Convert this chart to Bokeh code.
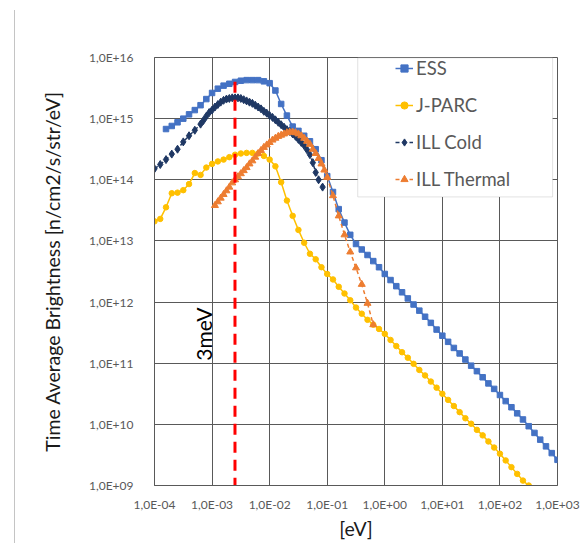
import math
from bokeh.plotting import figure
from bokeh.layouts import row
from bokeh.models import (Range1d, FixedTicker, CustomJSTickFormatter, Legend,
                          LegendItem, Label, BoxAnnotation, Div)
from bokeh.embed import file_html
from bokeh.resources import INLINE

# ---------------- data (log10 of energy [eV] and of brightness) ----------------
x_tick_exps = [-4, -3, -2, -1, 0, 1, 2, 3]
x_tick_labels = ["1,0E-04", "1,0E-03", "1,0E-02", "1,0E-01", "1,0E+00", "1,0E+01", "1,0E+02", "1,0E+03"]
y_tick_exps = [9, 10, 11, 12, 13, 14, 15, 16]
y_tick_labels = ["1,0E+09", "1,0E+10", "1,0E+11", "1,0E+12", "1,0E+13", "1,0E+14", "1,0E+15", "1,0E+16"]

ess_log_e = [-3.8, -3.7, -3.6, -3.5, -3.4, -3.3, -3.2, -3.1, -3.0, -2.9,
             -2.8, -2.7, -2.6, -2.5, -2.4, -2.3, -2.2, -2.1, -2.0, -1.9,
             -1.8, -1.7, -1.6, -1.5, -1.4, -1.3, -1.2, -1.1, -1.0, -0.9,
             -0.8, -0.7, -0.6, -0.5, -0.4, -0.3, -0.2, -0.1, 0.0, 0.1,
             0.2, 0.3, 0.4, 0.5, 0.6, 0.7, 0.8, 0.9, 1.0, 1.1,
             1.2, 1.3, 1.4, 1.5, 1.6, 1.7, 1.8, 1.9, 2.0, 2.1,
             2.2, 2.3, 2.4, 2.5, 2.6, 2.7, 2.8, 2.9, 3.0]
ess_log_b = [14.83, 14.88, 14.94, 15.00, 15.07, 15.14, 15.22, 15.32, 15.42, 15.49,
             15.54, 15.57, 15.60, 15.62, 15.63, 15.63, 15.63, 15.61, 15.58, 15.46,
             15.24, 15.05, 14.87, 14.80, 14.72, 14.63, 14.50, 14.32, 14.06, 13.80,
             13.52, 13.30, 13.10, 12.95, 12.86, 12.77, 12.67, 12.57, 12.46, 12.36,
             12.26, 12.16, 12.06, 11.96, 11.86, 11.76, 11.66, 11.55, 11.45, 11.35,
             11.25, 11.16, 11.06, 10.96, 10.87, 10.77, 10.67, 10.58, 10.48, 10.38,
             10.28, 10.18, 10.08, 9.97, 9.86, 9.75, 9.64, 9.53, 9.42]

jparc_log_e = [-4.0, -3.9, -3.8, -3.7, -3.6, -3.5, -3.4, -3.3, -3.2, -3.1,
               -3.0, -2.9, -2.8, -2.7, -2.6, -2.5, -2.4, -2.3, -2.2, -2.1,
               -2.0, -1.9, -1.8, -1.7, -1.6, -1.5, -1.4, -1.3, -1.2, -1.1,
               -1.0, -0.9, -0.8, -0.7, -0.6, -0.5, -0.4, -0.3, -0.2, -0.1,
               0.0, 0.1, 0.2, 0.3, 0.4, 0.5, 0.6, 0.7, 0.8, 0.9,
               1.0, 1.1, 1.2, 1.3, 1.4, 1.5, 1.6, 1.7, 1.8, 1.9,
               2.0, 2.1, 2.2, 2.3, 2.4, 2.5]
jparc_log_b = [13.32, 13.36, 13.55, 13.78, 13.79, 13.83, 13.93, 14.11, 14.08, 14.20,
               14.26, 14.30, 14.33, 14.37, 14.41, 14.43, 14.44, 14.44, 14.43, 14.39,
               14.33, 14.22, 13.96, 13.66, 13.41, 13.18, 12.97, 12.79, 12.70, 12.57,
               12.46, 12.37, 12.25, 12.14, 12.03, 11.91, 11.81, 11.71, 11.63, 11.56,
               11.48, 11.38, 11.28, 11.18, 11.09, 10.99, 10.89, 10.80, 10.70, 10.60,
               10.50, 10.40, 10.30, 10.20, 10.10, 10.01, 9.91, 9.82, 9.72, 9.62,
               9.52, 9.41, 9.30, 9.19, 9.08, 9.00]

cold_log_e = [-4.0, -3.9, -3.8, -3.7, -3.6, -3.5, -3.4, -3.3, -3.2,
              -3.15, -3.1, -3.05, -3.0, -2.95, -2.9, -2.85, -2.8, -2.75, -2.7,
              -2.65, -2.6, -2.55, -2.5, -2.45, -2.4, -2.35, -2.3, -2.25, -2.2,
              -2.15, -2.1, -2.05, -2.0, -1.95, -1.9, -1.85, -1.8, -1.75, -1.7,
              -1.65, -1.6, -1.55, -1.5, -1.45, -1.4, -1.35, -1.3, -1.25, -1.2,
              -1.15, -1.08]
cold_log_b = [14.18, 14.25, 14.33, 14.42, 14.50, 14.62, 14.72, 14.81, 14.91,
              14.97, 15.04, 15.10, 15.14, 15.19, 15.23, 15.27, 15.30, 15.32, 15.33,
              15.34, 15.34, 15.34, 15.33, 15.31, 15.29, 15.27, 15.25, 15.22, 15.19,
              15.16, 15.12, 15.09, 15.05, 15.02, 14.98, 14.94, 14.90, 14.86, 14.82,
              14.79, 14.75, 14.71, 14.66, 14.61, 14.56, 14.49, 14.41, 14.28, 14.12,
              14.00, 13.88]

therm_log_e = [-2.95, -2.9, -2.85, -2.8, -2.75, -2.7, -2.65, -2.6, -2.55, -2.5,
               -2.45, -2.4, -2.35, -2.3, -2.25, -2.2, -2.15, -2.1, -2.05, -2.0,
               -1.95, -1.9, -1.85, -1.8, -1.75, -1.7, -1.65, -1.6, -1.55, -1.5,
               -1.45, -1.4, -1.35, -1.3, -1.25, -1.2, -1.15, -1.1, -1.05, -1.0,
               -0.9, -0.8, -0.7, -0.6, -0.5, -0.4, -0.3, -0.2]
therm_log_b = [13.58, 13.64, 13.70, 13.76, 13.82, 13.88, 13.95, 14.00, 14.05, 14.10,
               14.15, 14.20, 14.26, 14.31, 14.37, 14.43, 14.48, 14.53, 14.57, 14.61,
               14.65, 14.68, 14.71, 14.73, 14.75, 14.77, 14.78, 14.78, 14.77, 14.75,
               14.72, 14.68, 14.63, 14.58, 14.50, 14.43, 14.35, 14.26, 14.16, 14.04,
               13.74, 13.41, 13.10, 12.82, 12.56, 12.29, 11.98, 11.63]

marker_energy = 0.0025      # red dashed "3meV" marker line, as drawn
marker_top = 4.0e15
marker_label = "3meV"

FONT = "Lato"


def lin(vals):
    return [10.0 ** v for v in vals]


p = figure(width=570, height=543, title=None,
           x_axis_type="log", y_axis_type="log",
           x_range=Range1d(1e-4, 1e3), y_range=Range1d(1e9, 1e16),
           output_backend="svg", toolbar_location=None,
           min_border_left=139, min_border_top=57,
           min_border_right=28, min_border_bottom=58, margin=0)
p.background_fill_color = "white"
p.border_fill_color = "white"
p.outline_line_color = "#595959"
p.outline_line_width = 1

# ticks / grid
xt = FixedTicker(ticks=[10.0 ** e for e in x_tick_exps])
yt = FixedTicker(ticks=[10.0 ** e for e in y_tick_exps])
p.xaxis.ticker = xt
p.yaxis.ticker = yt
p.xgrid.ticker = xt
p.ygrid.ticker = yt
fmt_code = ("const e = Math.round(Math.log10(tick)); const i = exps.indexOf(e);"
            " return i >= 0 ? labels[i] : '';")
p.xaxis.formatter = CustomJSTickFormatter(args=dict(labels=x_tick_labels, exps=x_tick_exps), code=fmt_code)
p.yaxis.formatter = CustomJSTickFormatter(args=dict(labels=y_tick_labels, exps=y_tick_exps), code=fmt_code)
for g in (p.xgrid, p.ygrid):
    g.grid_line_color = "#595959"
    g.grid_line_width = 1
for ax in (p.xaxis, p.yaxis):
    ax.major_tick_line_color = None
    ax.minor_tick_line_color = None
    ax.major_tick_out = 0
    ax.major_tick_in = 0
    ax.minor_tick_out = 0
    ax.minor_tick_in = 0
    ax.axis_line_color = "#595959"
    ax.major_label_text_font = FONT
    ax.major_label_text_font_size = "12px"
    ax.major_label_text_color = "#595959"
    ax.axis_label_text_font = FONT
    ax.axis_label_text_font_style = "normal"
    ax.axis_label_text_color = "#1a1a1a"
    ax.axis_label_text_font_size = "19.5px"
p.xaxis.axis_label = "[eV]"
p.xaxis.major_label_standoff = 11
p.xaxis.axis_label_standoff = 2
p.yaxis.axis_label = "Time Average Brightness [n/cm2/s/str/eV]"
p.yaxis.major_label_standoff = 21
p.yaxis.axis_label_standoff = 22

# series
series = [
    ("ESS", ess_log_e, ess_log_b, "#4472C4", "square", 5.5, "solid"),
    ("J-PARC", jparc_log_e, jparc_log_b, "#FFC000", "circle", 5.5, "solid"),
    ("ILL Cold", cold_log_e, cold_log_b, "#1F3864", "diamond", 8, "4 3"),
    ("ILL Thermal", therm_log_e, therm_log_b, "#ED7D31", "triangle", 7, "4 3"),
]
items = []
for name, le, lb, col, mk, sz, dash in series:
    xs, ys = lin(le), lin(lb)
    r1 = p.line(xs, ys, line_color=col, line_width=1.5, line_dash=dash)
    r2 = p.scatter(xs, ys, marker=mk, size=sz, fill_color=col, line_color=col)
    items.append(LegendItem(label=name, renderers=[r1, r2]))

# red marker line
p.line([marker_energy, marker_energy], [marker_top, 1e9], line_color="#FF0000",
       line_width=3, line_dash="11 7")
p.add_layout(Label(x=7.1e-4, y=3.0e11, text=marker_label, angle=math.pi / 2,
                   text_align="center", text_baseline="middle",
                   text_font=FONT, text_font_size="21px", text_color="black"))

# legend box
p.add_layout(BoxAnnotation(left=10 ** -0.47, right=10 ** 2.915, top=10 ** 15.995, bottom=10 ** 13.72,
                           fill_color="white", fill_alpha=1, line_color="#a0a0a0", line_width=1))
legend = Legend(items=items, location=(241, 295), padding=0, margin=0, spacing=15,
                glyph_width=18, glyph_height=20, label_height=20, label_standoff=3,
                label_text_font=FONT, label_text_font_size="18.5px", label_text_color="#595959",
                border_line_color=None, background_fill_alpha=0)
p.add_layout(legend)

# document margin line at the left of the page
left_rule = Div(text="", width=14, height=533, margin=0,
                styles={"border-right": "1px solid #c4c4c4", "margin-top": "10px",
                        "box-sizing": "content-box"})

layout = row(left_rule, p, spacing=0, margin=0)
open("out.html", "w").write(file_html(layout, INLINE))
